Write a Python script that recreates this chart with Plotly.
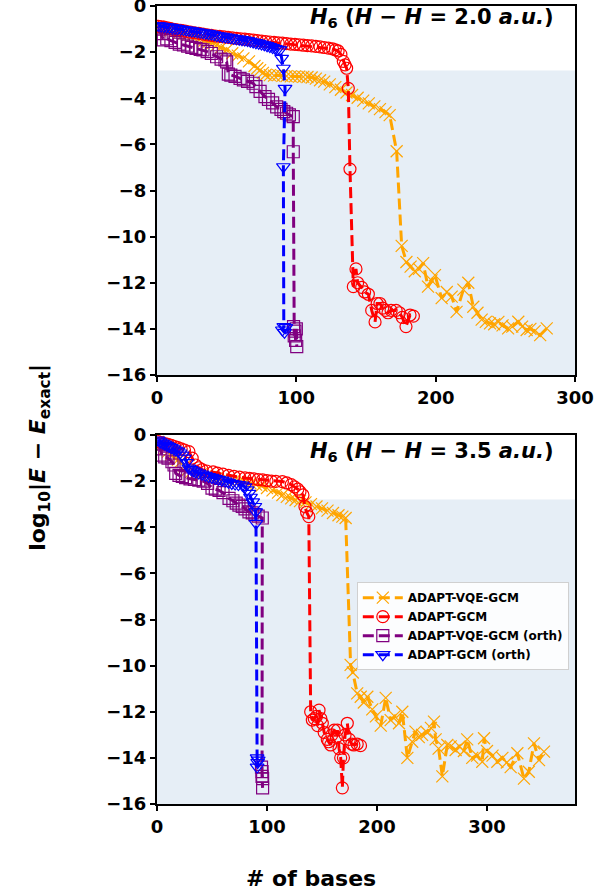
import plotly.graph_objects as go

# ---------------- data : H6, H-H = 2.0 a.u. (top) ----------------
top_vqe_x = [1, 4, 7, 10, 13, 16, 19, 22, 25, 28, 31, 34, 37, 40, 43, 46, 50, 54, 58, 62, 66, 70, 72, 74,
             76, 78, 81, 84, 87, 90, 93, 96, 99, 102, 105, 108, 111, 114, 117, 120, 124, 128, 132, 136, 140,
             144, 148, 152, 156, 160, 164, 167, 172, 175.6, 179, 182, 185, 188, 191, 194.5, 197, 199.5,
             204.3, 208, 211.5, 215, 219.9, 223.4, 227, 230, 233, 236, 239, 242, 245, 248, 252, 255,
             259.3, 262, 265.3, 268, 271, 275, 279.7]
top_vqe_y = [-0.9, -0.95, -1.0, -1.05, -1.1, -1.15, -1.2, -1.25, -1.3, -1.35, -1.42, -1.5, -1.55, -1.6, -1.69,
             -1.8, -1.9, -2.05, -2.15, -2.27, -2.4, -2.6, -2.7, -2.78, -2.9, -2.98, -3.0, -3.02, -3.0, -3.03,
             -3.04, -3.05, -3.05, -3.06, -3.07, -3.08, -3.1, -3.15, -3.22, -3.28, -3.4, -3.52, -3.63, -3.75,
             -3.86, -3.98, -4.1, -4.22, -4.35, -4.47, -4.6, -4.73, -6.3, -10.4, -11.1, -11.3, -11.5, -11.4,
             -11.15, -12.17, -11.9, -11.67, -12.67, -12.4, -12.6, -13.26, -12.3, -12.0, -13.04, -13.3,
             -13.6, -13.7, -13.76, -13.8, -13.7, -13.85, -13.98, -13.9, -13.69, -13.9, -14.05, -14.0,
             -14.1, -14.27, -13.98]

top_gcm_x = [1, 3, 5, 7, 9, 11, 13, 15, 17, 19, 21, 24, 27, 30, 33, 36, 39, 42, 45, 48, 51, 54, 57, 60,
             63, 66, 69, 72, 75, 78, 81, 84, 87, 90, 93, 96, 99, 102, 105, 108, 111, 114, 117, 120, 123,
             126, 128, 130, 132, 133.7, 135, 136.1, 137.3, 138.5, 140.9, 142.8, 144, 146.9, 149, 151.7,
             154.1, 156.5, 158, 160, 162, 164, 165.8, 168, 171.6, 174, 176, 178.7, 181.6, 184]
top_gcm_y = [-0.88, -0.9, -0.92, -0.95, -0.97, -1.0, -1.02, -1.04, -1.06, -1.08, -1.1, -1.13, -1.16,
             -1.19, -1.22, -1.25, -1.27, -1.3, -1.32, -1.34, -1.36, -1.38, -1.4, -1.42, -1.44, -1.46,
             -1.48, -1.5, -1.52, -1.54, -1.56, -1.58, -1.6, -1.61, -1.63, -1.65, -1.66, -1.68, -1.7,
             -1.72, -1.73, -1.75, -1.77, -1.8, -1.83, -1.86, -1.9, -1.95, -2.1, -2.4, -2.55, -2.7, -3.57,
             -7.07, -12.17, -11.4, -12.0, -12.2, -12.4, -12.5, -13.2, -13.7, -12.9, -12.9, -13.1, -13.2,
             -13.3, -13.2, -13.2, -13.3, -13.5, -13.9, -13.4, -13.45]

top_vqe_orth_x = [1, 3, 4.5, 7, 10, 13, 16, 19, 22, 25, 28, 31, 33, 36, 39, 42.8, 46, 48.8, 50, 51.2,
                  53, 56, 59.6, 62, 65, 69, 71, 74, 77.5, 80, 83, 85.9, 89, 91, 93, 95, 97.8, 97.8, 98,
                  98.5, 99, 99.5, 100, 100.3]
top_vqe_orth_y = [-1.0, -1.2, -1.47, -1.42, -1.5, -1.58, -1.65, -1.69, -1.74, -1.79, -1.84, -1.88,
                  -1.9, -1.98, -2.06, -2.2, -2.3, -2.34, -2.42, -2.95, -3.0, -3.05, -3.14, -3.2, -3.27,
                  -3.35, -3.5, -3.7, -3.93, -4.05, -4.2, -4.37, -4.48, -4.58, -4.65, -4.72, -4.8, -6.32,
                  -13.9, -14.3, -14.1, -14.5, -14.0, -14.77]

top_gcm_orth_x = [1, 3, 5, 7, 9, 11, 13, 15, 17, 19, 21, 23, 25, 27, 29, 31, 33, 35, 37, 39, 41, 43,
                  45, 47, 49, 51, 53, 55, 57, 59, 61, 63, 65, 67, 69, 71, 73, 75, 77, 79, 81, 83, 85,
                  86.5, 88.3, 89.5, 90.7, 91.9, 90.7, 91, 90, 91.5, 92.5]
top_gcm_orth_y = [-0.85, -0.87, -0.89, -0.9, -0.92, -0.94, -0.96, -0.98, -1.0, -1.02, -1.04, -1.06,
                  -1.08, -1.1, -1.12, -1.14, -1.16, -1.18, -1.2, -1.22, -1.25, -1.28, -1.3, -1.32, -1.34,
                  -1.36, -1.38, -1.4, -1.42, -1.44, -1.46, -1.48, -1.5, -1.53, -1.56, -1.59, -1.62,
                  -1.65, -1.68, -1.72, -1.76, -1.8, -1.85, -1.88, -1.9, -2.27, -2.7, -3.57, -6.97,
                  -13.9, -14.05, -14.15, -13.95]

# ---------------- data : H6, H-H = 3.5 a.u. (bottom) ----------------
bot_vqe_x = [1, 4, 7, 10, 13, 16, 19, 21.5, 25, 28, 31, 35, 40, 45, 50, 55, 60, 65, 70, 75, 80, 85, 90,
             95, 100, 105, 110, 114, 118, 122, 126, 130, 135, 140, 145, 150, 155, 160, 165, 168.5, 171.5,
             176, 178, 182, 185.2, 188, 191.2, 195.7, 199, 203.4, 207.9, 212.4, 216, 220, 223, 227.6, 232,
             235, 238, 241, 245.6, 249, 251.8, 253.3, 256, 259.4, 263.9, 267, 271.5, 275, 279, 282,
             286.6, 291, 295.7, 297.3, 300, 305, 309.4, 314, 318, 321.5, 327.6, 333.6, 338, 342.7,
             347.3, 351.8]
bot_vqe_y = [-0.3, -0.45, -0.6, -0.72, -0.85, -1.0, -1.08, -1.16, -1.35, -1.5, -1.6, -1.65, -1.7, -1.75,
             -1.8, -1.85, -1.9, -1.95, -1.98, -2.0, -2.05, -2.1, -2.15, -2.2, -2.3, -2.4, -2.5, -2.6,
             -2.68, -2.75, -2.82, -2.87, -2.92, -3.0, -3.1, -3.18, -3.28, -3.38, -3.48, -3.54, -3.6,
             -9.97, -10.3, -11.2, -11.35, -11.6, -11.35, -11.9, -12.2, -12.6, -11.4, -12.36, -12.2,
             -12.5, -12.0, -14.0, -13.3, -12.86, -13.1, -13.0, -12.9, -12.7, -12.43, -13.2, -13.6,
             -14.8, -13.44, -13.5, -13.66, -13.5, -13.7, -13.2, -14.0, -13.9, -14.17, -13.15, -13.7,
             -13.9, -14.17, -14.0, -14.2, -14.4, -13.8, -14.9, -14.6, -13.37, -14.1, -13.73]

bot_gcm_x = [1, 4, 7, 10, 13, 16, 19, 22, 25, 29, 32, 35, 38, 41, 45, 51, 55, 60, 65, 70, 75, 80, 84,
             88, 92, 96, 100, 104, 108, 114, 118, 122, 125, 128, 130, 132.7, 134.5, 136, 138, 139.7,
             141.2, 143, 145, 146, 147.3, 149, 150.3, 152, 154.8, 156, 157.9, 159, 161, 163, 164,
             165.5, 167, 168.5, 169.5, 171, 173, 174.8, 177, 179, 182, 185]
bot_gcm_y = [-0.29, -0.33, -0.37, -0.41, -0.45, -0.5, -0.55, -0.6, -0.65, -0.72, -1.0, -1.3, -1.42,
             -1.5, -1.56, -1.6, -1.65, -1.7, -1.75, -1.79, -1.83, -1.86, -1.88, -1.9, -1.93, -1.95,
             -1.98, -2.0, -2.01, -2.02, -2.08, -2.15, -2.25, -2.35, -2.46, -2.6, -3.1, -3.35, -3.54,
             -12.0, -12.36, -12.3, -12.2, -12.6, -11.93, -12.3, -12.5, -12.9, -13.2, -13.3, -13.44,
             -13.0, -12.8, -13.1, -12.8, -13.6, -14.0, -15.3, -14.0, -13.0, -12.5, -13.2, -13.4,
             -13.44, -13.4, -13.47]

bot_vqe_orth_x = [1, 3, 4.5, 7, 10, 13.6, 15.5, 17, 20, 23, 26, 30, 34, 38, 42, 46, 50, 53, 56.4, 60,
                  65.5, 69, 72, 74.5, 77.5, 80, 83.6, 86.6, 89, 92, 95.7, 95, 95.5, 96, 95.5, 96]
bot_vqe_orth_y = [-0.4, -0.6, -0.87, -0.95, -1.0, -1.16, -1.3, -1.66, -1.75, -1.8, -1.85, -1.9, -1.93,
                  -1.96, -2.0, -2.1, -2.3, -2.35, -2.4, -2.5, -2.75, -2.85, -2.95, -3.04, -3.1, -3.2,
                  -3.33, -3.38, -3.45, -3.52, -3.6, -14.4, -14.8, -15.3, -14.6, -14.9]

bot_gcm_orth_x = [1, 3, 5, 7, 9, 11, 13, 15, 17, 19, 21, 23, 25, 27, 29, 31, 33, 35, 38, 41, 44, 47,
                  50, 53, 56, 59, 62, 65, 68, 71, 74, 77.5, 80, 82, 83.6, 85, 87, 89, 89.7, 90, 91,
                  91.5, 92, 91]
bot_gcm_orth_y = [-0.22, -0.3, -0.35, -0.4, -0.45, -0.5, -0.55, -0.6, -0.65, -0.7, -0.78, -0.87, -1.0,
                  -1.2, -1.44, -1.5, -1.55, -1.6, -1.65, -1.7, -1.75, -1.8, -1.84, -1.88, -1.92, -1.96,
                  -2.0, -2.05, -2.1, -2.13, -2.15, -2.17, -2.25, -2.38, -2.53, -2.7, -2.9, -3.1, -3.33,
                  -3.83, -14.0, -14.2, -14.1, -14.4]

series_names = ["ADAPT-VQE-GCM", "ADAPT-GCM", "ADAPT-VQE-GCM (orth)", "ADAPT-GCM (orth)"]
colors = ["#FFA500", "#FF0000", "#800080", "#0000FF"]
symbols = ["x-thin", "circle-open", "square-open", "triangle-down-open"]

top_titles = ["2.0", "3.5"]
x_ticks_top = [0, 100, 200, 300]
x_ticks_bot = [0, 100, 200, 300]
y_ticks = [0, -2, -4, -6, -8, -10, -12, -14, -16]
chem_acc = -2.8

panels = [
    ([top_vqe_x, top_gcm_x, top_vqe_orth_x, top_gcm_orth_x],
     [top_vqe_y, top_gcm_y, top_vqe_orth_y, top_gcm_orth_y]),
    ([bot_vqe_x, bot_gcm_x, bot_vqe_orth_x, bot_gcm_orth_x],
     [bot_vqe_y, bot_gcm_y, bot_vqe_orth_y, bot_gcm_orth_y]),
]

fig = go.Figure()
for p, (xs, ys) in enumerate(panels):
    xa = "x" if p == 0 else "x2"
    ya = "y" if p == 0 else "y2"
    for i in range(4):
        fig.add_trace(go.Scatter(
            x=xs[i], y=ys[i], mode="lines+markers", name=series_names[i],
            xaxis=xa, yaxis=ya, showlegend=(p == 1),
            line=dict(color=colors[i], width=3, dash="11px,5px"),
            marker=dict(symbol=symbols[i], size=12, color=colors[i],
                        line=dict(color=colors[i], width=1.2)),
        ))

axis_common = dict(showline=True, linecolor="black", linewidth=2, mirror=True, ticks="outside",
                   ticklen=5, tickwidth=2, tickcolor="black", showgrid=False, zeroline=False,
                   automargin=False, ticklabeloverflow="allow",
                   tickfont=dict(family="DejaVu Sans", size=18, color="black", weight="bold"))

fig.update_layout(
    width=613, height=896,
    margin=dict(l=157, r=38, t=6, b=92, autoexpand=False),
    plot_bgcolor="white", paper_bgcolor="white",
    font=dict(family="DejaVu Sans", color="black"),
    xaxis=dict(domain=[0, 1], anchor="y", range=[0, 300], tickvals=x_ticks_top, **axis_common),
    yaxis=dict(domain=[0.5376, 1], anchor="x", range=[-16, 0], tickvals=y_ticks, **axis_common),
    xaxis2=dict(domain=[0, 1], anchor="y2", range=[0, 380], tickvals=x_ticks_bot, **axis_common),
    yaxis2=dict(domain=[0, 0.4624], anchor="x2", range=[-16, 0], tickvals=y_ticks, **axis_common),
    legend=dict(x=0.478, y=0.278, xanchor="left", yanchor="top",
                bgcolor="rgba(255,255,255,0.85)", bordercolor="#d0d0d0", borderwidth=1,
                font=dict(family="DejaVu Sans", size=12, color="black", weight="bold"),
                tracegroupgap=0, itemwidth=40),
)

for xr, yr in [("x", "y"), ("x2", "y2")]:
    fig.add_shape(type="rect", xref=f"{xr} domain", yref=yr, x0=0, x1=1, y0=-16, y1=chem_acc,
                  fillcolor="rgb(230,238,246)", line=dict(width=0), layer="below")

title_pos = [("x domain", "y domain", 0.967), ("x2 domain", "y2 domain", 0.954)]
for t, (xr, yr, yy) in zip(top_titles, title_pos):
    fig.add_annotation(
        text=f"<b><i>H</i><sub>6</sub> (<i>H</i> − <i>H</i> = {t} <i>a.u.</i>)</b>",
        xref=xr, yref=yr, x=0.955, y=yy, xanchor="right", yanchor="middle", showarrow=False,
        font=dict(family="DejaVu Sans", size=21, color="black"))

fig.add_annotation(text="<b>log<sub>10</sub>|<i>E</i> − <i>E</i><sub>exact</sub>|</b>",
                   xref="paper", yref="paper", x=-0.28, y=0.435, textangle=-90, showarrow=False,
                   xanchor="center", yanchor="middle",
                   font=dict(family="DejaVu Sans", size=22, color="black"))
fig.add_annotation(text="<b># of bases</b>", xref="paper", yref="paper", x=0.368, y=-0.093,
                   showarrow=False, xanchor="center", yanchor="middle",
                   font=dict(family="DejaVu Sans", size=22, color="black"))

fig.write_html("out.html", config={"displayModeBar": False},
               post_script="document.body.style.margin='0';")
